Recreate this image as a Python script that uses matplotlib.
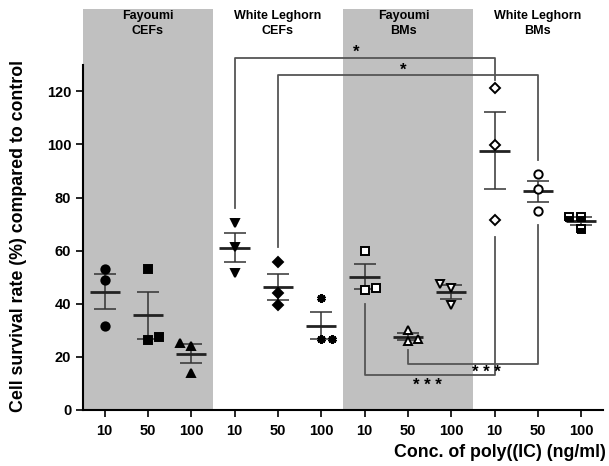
import matplotlib
matplotlib.use("Agg")
import matplotlib.pyplot as plt
import numpy as np

plt.rcParams["font.family"] = ["Liberation Sans", "DejaVu Sans"]
plt.rcParams["font.weight"] = "bold"
plt.rcParams["axes.labelweight"] = "bold"

conc_labels = ["10", "50", "100"] * 4
group_names = ["Fayoumi\nCEFs", "White Leghorn\nCEFs", "Fayoumi\nBMs", "White Leghorn\nBMs"]

# survival (%) of the three replicates, per group/concentration
fay_cef_10 = [53.1, 48.9, 31.7]
fay_cef_50 = [53.1, 26.3, 27.4]
fay_cef_100 = [25.3, 24.2, 14.0]
wl_cef_10 = [70.4, 61.4, 51.4]
wl_cef_50 = [55.9, 44.0, 39.4]
wl_cef_100 = [42.0, 26.6, 26.6]
fay_bm_10 = [59.8, 45.0, 45.8]
fay_bm_50 = [30.3, 25.9, 26.7]
fay_bm_100 = [47.6, 46.1, 39.4]
wl_bm_10 = [121.4, 99.9, 71.5]
wl_bm_50 = [88.9, 83.2, 74.8]
wl_bm_100 = [72.7, 72.5, 68.0]

series = [fay_cef_10, fay_cef_50, fay_cef_100, wl_cef_10, wl_cef_50, wl_cef_100,
          fay_bm_10, fay_bm_50, fay_bm_100, wl_bm_10, wl_bm_50, wl_bm_100]

# significance brackets: (from group, to group, start y, bar y, end y, label, label x, label y)
brackets = [
    (3, 9, 76.0, 132.4, 124.1, "*", 5.8, 132.0),
    (4, 10, 61.4, 126.0, 94.0, "*", 6.9, 125.0),
    (6, 9, 39.9, 13.2, 65.0, "* * *", 7.45, 12.0),
    (7, 10, 22.6, 17.2, 69.6, "* * *", 8.8, 17.0),
]

# horizontal nudges so overlapping replicates stay visible
jitter = [[0, 0, 0], [0, 0, 0.25], [-0.25, 0, 0],
          [0, 0, 0], [0, 0, 0], [0, 0, 0.25],
          [0, 0, 0.27], [0, 0, 0.23], [-0.25, 0, 0],
          [0, 0, 0], [0, 0, 0], [-0.28, 0, 0]]

markers = [dict(marker="o", mfc="black"), dict(marker="s", mfc="black"),
           dict(marker="^", mfc="black"), dict(marker="v", mfc="black"),
           dict(marker="D", mfc="black", ms=5), dict(marker=(6, 2, 0), mew=2.2),
           dict(marker="s", mfc="white"), dict(marker="^", mfc="white"),
           dict(marker="v", mfc="white"), dict(marker="D", mfc="white", ms=5),
           dict(marker="o", mfc="white"),
           dict(marker="s", mfc="black", fillstyle="bottom", markerfacecoloralt="white")]

fig = plt.figure(figsize=(6.09, 4.66), dpi=100)
ax = fig.add_axes([0.1363, 0.1202, 0.8537, 0.8605])

ax.axvspan(-0.5, 2.5, color="#c0c0c0", zorder=0, lw=0)
ax.axvspan(5.5, 8.5, color="#c0c0c0", zorder=0, lw=0)

for i, vals in enumerate(series):
    vals = np.array(vals)
    m = vals.mean()
    sem = vals.std(ddof=1) / np.sqrt(len(vals))
    ax.errorbar(i, m, yerr=sem, fmt="none", ecolor="#333333", elinewidth=1.1,
                capsize=8, capthick=1.1, zorder=3)
    ax.hlines(m, i - 0.35, i + 0.35, color="#222222", lw=2, zorder=3)
    style = dict(ms=6, mec="black", mew=1.4, ls="none", color="black")
    style.update(markers[i])
    ax.plot(i + np.array(jitter[i]), vals, zorder=4, **style)

for g0, g1, y0, yb, y1, lab, lx, ly in brackets:
    ax.plot([g0, g0, g1, g1], [y0, yb, yb, y1], color="#555555", lw=1.3,
            zorder=2, clip_on=False)
    ax.text(lx, ly, lab, ha="center", va="bottom" if yb > 100 else "top",
            fontsize=12, fontweight="bold")

for k, name in enumerate(group_names):
    ax.text(3 * k + 1 + (0 if k != 2 else -0.1), 150.5, name, ha="center", va="top",
            fontsize=9, fontweight="bold", linespacing=1.3)

ax.set_xlim(-0.5, 11.5)
ax.set_ylim(0, 151)
ax.set_xticks(range(12))
ax.set_xticklabels(conc_labels, fontsize=10.5, fontweight="bold")
ax.set_yticks(range(0, 121, 20))
ax.set_yticklabels([str(v) for v in range(0, 121, 20)], fontsize=10.5, fontweight="bold")
ax.tick_params(axis="y", length=5, width=1.2)
ax.tick_params(axis="x", length=5, width=1.2, pad=5)
ax.spines["top"].set_visible(False)
ax.spines["right"].set_visible(False)
ax.spines["left"].set_bounds(0, 130)
ax.spines["left"].set_linewidth(1.5)
ax.spines["bottom"].set_linewidth(1.5)
ax.set_ylabel("Cell survival rate (%) compared to control", fontsize=12.8,
              fontweight="bold")
ax.yaxis.set_label_coords(-0.108, 0.433)
ax.set_xlabel("Conc. of poly((IC) (ng/ml)", fontsize=12.8, fontweight="bold")
ax.xaxis.set_label_coords(0.802, -0.085)

fig.savefig("out.png", dpi=100)
